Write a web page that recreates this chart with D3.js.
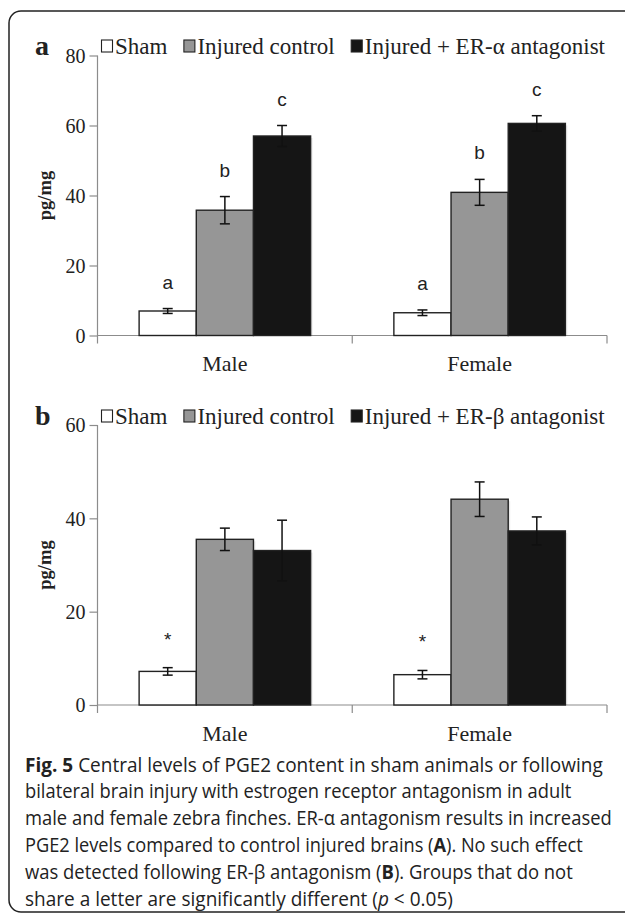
<!DOCTYPE html>
<html>
<head>
<meta charset="utf-8">
<script src="https://cdn.jsdelivr.net/npm/d3@7"></script>
<style>
  html, body { margin: 0; padding: 0; background: #fff; }
  svg { display: block; }
</style>
</head>
<body>
<svg id="chart" width="625" height="917"></svg>
<script>
// ---------------- data ----------------
const categories = ["Male", "Female"];
const seriesA = ["Sham", "Injured control", "Injured + ER-α antagonist"];
const seriesB = ["Sham", "Injured control", "Injured + ER-β antagonist"];
const seriesColors = ["#ffffff", "#969696", "#151515"];

// values per category: [Sham, Injured control, Injured + antagonist]
const meansA = [[7.0, 35.8, 57.0], [6.5, 40.9, 60.6]];
const errA   = [[0.7, 3.9, 3.0],  [0.8, 3.7, 2.2]];
const lettersA = [["a", "b", "c"], ["a", "b", "c"]];

const meansB = [[7.2, 35.5, 33.1], [6.5, 44.1, 37.3]];
const errB   = [[0.8, 2.4, 6.5],  [0.9, 3.7, 3.0]];
const lettersB = [["*", "", ""], ["*", "", ""]];

const ticksA = [0, 20, 40, 60, 80];
const ticksB = [0, 20, 40, 60];

const captionLines = [
  [["b", "Fig. 5"], ["n", " Central levels of PGE2 content in sham animals or following"]],
  [["n", "bilateral brain injury with estrogen receptor antagonism in adult"]],
  [["n", "male and female zebra finches. ER-α antagonism results in increased"]],
  [["n", "PGE2 levels compared to control injured brains ("], ["b", "A"], ["n", "). No such effect"]],
  [["n", "was detected following ER-β antagonism ("], ["b", "B"], ["n", "). Groups that do not"]],
  [["n", "share a letter are significantly different ("], ["i", "p"], ["n", " < 0.05)"]]
];
const captionWidths = [578, 547, 587, 558, 548, 428];

// ---------------- drawing ----------------
const svg = d3.select("#chart");
const SERIF = "'Liberation Serif', 'Times New Roman', serif";
const SANS = "'Liberation Sans', Arial, sans-serif";

// outer rounded frame (right side runs off the page)
svg.append("rect")
  .attr("x", 9).attr("y", 11).attr("width", 700).attr("height", 901)
  .attr("rx", 12).attr("ry", 12)
  .attr("fill", "none").attr("stroke", "#222").attr("stroke-width", 1.5);

const xLeft = 97.5, xRight = 607;
const x0 = d3.scaleBand().domain(categories).range([xLeft, xRight]).padding(0);
const x1 = d3.scaleBand().domain([0, 1, 2]).range([0, x0.bandwidth()])
  .paddingInner(0).paddingOuter(0.728);

function panel(opts) {
  const { top, bottom, maxV, ticks, means, errs, letters, series, label, legendY, letterSize, letterOffset } = opts;
  const g = svg.append("g");
  const y = d3.scaleLinear().domain([0, maxV]).range([bottom, top]);

  // y axis
  const yAxis = d3.axisLeft(y).tickValues(ticks).tickSize(8).tickSizeOuter(0).tickPadding(4);
  const ya = g.append("g").attr("transform", `translate(${xLeft},0)`).call(yAxis);
  ya.select(".domain").attr("stroke", "#8c8c8c").attr("stroke-width", 1.2)
    .attr("d", `M0,${y(maxV)}V${bottom + 8}`);
  ya.selectAll(".tick line").attr("stroke", "#8c8c8c").attr("stroke-width", 1.2);
  ya.selectAll(".tick text").attr("font-family", SERIF).attr("font-size", 20)
    .attr("fill", "#222").attr("dy", "0.34em");

  // x axis
  g.append("line").attr("x1", xLeft).attr("x2", xRight).attr("y1", bottom).attr("y2", bottom)
    .attr("stroke", "#8c8c8c").attr("stroke-width", 1.2);
  const bounds = categories.map(c => x0(c)).concat([x0(categories[categories.length - 1]) + x0.bandwidth()]);
  g.selectAll(".xt").data(bounds.slice(1)).join("line")
    .attr("x1", d => d).attr("x2", d => d).attr("y1", bottom).attr("y2", bottom + 8)
    .attr("stroke", "#8c8c8c").attr("stroke-width", 1.2);
  g.selectAll(".xl").data(categories).join("text")
    .attr("x", d => x0(d) + x0.bandwidth() / 2).attr("y", bottom + 35.5)
    .attr("text-anchor", "middle").attr("font-family", SERIF).attr("font-size", 22)
    .attr("fill", "#222").text(d => d);

  // bars
  const groups = g.selectAll(".grp").data(categories).join("g")
    .attr("transform", d => `translate(${x0(d)},0)`);
  groups.each(function (cat, ci) {
    const gg = d3.select(this);
    const rows = means[ci].map((m, si) => ({ m, e: errs[ci][si], l: letters[ci][si], si }));
    // faint shadow
    gg.selectAll(".sh").data(rows).join("rect")
      .attr("x", d => x1(d.si) + 2).attr("y", d => y(d.m) + 2)
      .attr("width", x1.bandwidth()).attr("height", d => bottom - y(d.m) - 2)
      .attr("fill", "#000").attr("opacity", 0.08);
    gg.selectAll(".bar").data(rows).join("rect")
      .attr("x", d => x1(d.si)).attr("y", d => y(d.m))
      .attr("width", x1.bandwidth()).attr("height", d => bottom - y(d.m))
      .attr("fill", d => seriesColors[d.si]).attr("stroke", "#222").attr("stroke-width", 1.4);
    // error bars
    const cx = d => x1(d.si) + x1.bandwidth() / 2;
    gg.selectAll(".ev").data(rows).join("line")
      .attr("x1", cx).attr("x2", cx).attr("y1", d => y(d.m + d.e)).attr("y2", d => y(d.m - d.e))
      .attr("stroke", "#111").attr("stroke-width", 1.5);
    gg.selectAll(".et").data(rows).join("line")
      .attr("x1", d => cx(d) - 5).attr("x2", d => cx(d) + 5)
      .attr("y1", d => y(d.m + d.e)).attr("y2", d => y(d.m + d.e))
      .attr("stroke", "#111").attr("stroke-width", 1.5);
    gg.selectAll(".eb").data(rows).join("line")
      .attr("x1", d => cx(d) - 5).attr("x2", d => cx(d) + 5)
      .attr("y1", d => y(d.m - d.e)).attr("y2", d => y(d.m - d.e))
      .attr("stroke", "#111").attr("stroke-width", 1.5);
    gg.selectAll(".lt").data(rows.filter(d => d.l)).join("text")
      .attr("x", cx).attr("y", d => y(d.m + d.e) - letterOffset)
      .attr("text-anchor", "middle").attr("font-family", SANS).attr("font-size", letterSize)
      .attr("fill", "#222").text(d => d.l);
  });

  // y label
  g.append("text")
    .attr("transform", `translate(51,${(top + bottom) / 2}) rotate(-90)`)
    .attr("text-anchor", "middle").attr("font-family", SERIF).attr("font-weight", "bold")
    .attr("font-size", 18.5).attr("fill", "#222").text("pg/mg");

  // panel letter
  g.append("text").attr("x", 35).attr("y", legendY + 1)
    .attr("font-family", SERIF).attr("font-weight", "bold").attr("font-size", 28)
    .attr("fill", "#222").text(label);

  // legend
  let lx = 101;
  series.forEach((s, si) => {
    g.append("rect").attr("x", lx + 0.5).attr("y", legendY - 14).attr("width", 11).attr("height", 12)
      .attr("fill", seriesColors[si]).attr("stroke", "#222").attr("stroke-width", 1.1);
    const t = g.append("text").attr("x", lx + 14).attr("y", legendY)
      .attr("font-family", SERIF).attr("font-size", 23).attr("fill", "#222").text(s);
    lx = lx + 14 + t.node().getComputedTextLength() + 16;
  });
}

panel({ top: 55.5, bottom: 335.5, maxV: 80, ticks: ticksA, means: meansA, errs: errA,
        letters: lettersA, series: seriesA, label: "a", legendY: 54, letterSize: 19, letterOffset: 20 });
panel({ top: 425, bottom: 705, maxV: 60, ticks: ticksB, means: meansB, errs: errB,
        letters: lettersB, series: seriesB, label: "b", legendY: 424, letterSize: 19, letterOffset: 22 });

// caption: each line is scaled horizontally to the reference line width
const cap = svg.append("g");
captionLines.forEach((line, i) => {
  const lg = cap.append("g");
  const t = lg.append("text").attr("x", 0).attr("y", 0)
    .attr("font-family", "'Open Sans', 'Noto Sans', sans-serif").attr("font-size", 19.5)
    .attr("fill", "#222")
    .attr("xml:space", "preserve");
  line.forEach(([k, s]) => {
    const ts = t.append("tspan").text(s);
    if (k === "b") ts.attr("font-weight", "bold");
    if (k === "i") ts.attr("font-style", "italic");
  });
  const w = t.node().getComputedTextLength();
  lg.attr("transform", `translate(25,${771.5 + i * 26.8}) scale(${captionWidths[i] / w},1)`);
});
</script>
</body>
</html>
